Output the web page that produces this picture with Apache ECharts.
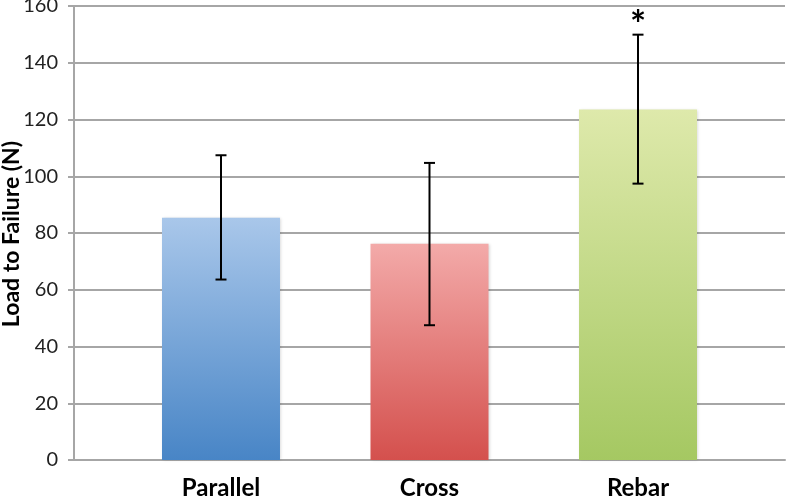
<!DOCTYPE html>
<html>
<head>
<meta charset="utf-8">
<script src="https://cdn.jsdelivr.net/npm/echarts@6/dist/echarts.min.js"></script>
<style>
html,body{margin:0;padding:0;background:#fff;}
#chart{width:787px;height:499px;}
</style>
</head>
<body>
<div id="chart"></div>
<script>
const categories = ['Parallel', 'Cross', 'Rebar'];
const means = [85.4, 76.2, 123.5];
const errLow = [63.6, 47.5, 97.4];
const errHigh = [107.4, 104.7, 149.9];
const annotations = ['', '', '*'];
const yTicks = [0, 20, 40, 60, 80, 100, 120, 140, 160];
const yTitle = 'Load to Failure (N)';
const topColors = ['#a9c7ea', '#f3aaa9', '#dee9ab'];
const bottomColors = ['#4885c6', '#d4504d', '#a5c862'];

const chart = echarts.init(document.getElementById('chart'), null, {renderer: 'canvas'});
const font = 'Lato, "Open Sans", "Liberation Sans", sans-serif';
const BAR_W = 118;

const barData = categories.map((c, i) => [i, means[i]]);
const errData = categories.map((c, i) => [i, errLow[i], errHigh[i]]);

chart.setOption({
  animation: false,
  grid: {left: 74, right: 2, top: 6, bottom: 39, containLabel: false, outerBoundsMode: 'none'},
  graphic: [{
    type: 'text',
    x: 12,
    y: 234,
    rotation: Math.PI / 2,
    style: {text: yTitle, fontFamily: font, fontWeight: 'bold', fontSize: 23, fill: '#000', align: 'center', verticalAlign: 'middle'}
  }],
  xAxis: {
    type: 'value',
    min: -0.705,
    max: 2.705,
    splitLine: {show: false},
    axisLine: {show: true, onZero: false, lineStyle: {color: '#a6a6a6', width: 2}},
    axisTick: {show: false},
    axisLabel: {
      customValues: [0, 1, 2],
      formatter: v => categories[Math.round(v)],
      fontFamily: font,
      fontWeight: 'bold',
      fontSize: 24,
      color: '#000',
      margin: 16
    }
  },
  yAxis: {
    type: 'value',
    min: yTicks[0],
    max: yTicks[yTicks.length - 1],
    interval: yTicks[1] - yTicks[0],
    axisLine: {show: true, onZero: false, lineStyle: {color: '#a6a6a6', width: 2}},
    axisTick: {show: true, length: 6, lineStyle: {color: '#a6a6a6', width: 2}},
    splitLine: {show: true, lineStyle: {color: '#a6a6a6', width: 2}},
    axisLabel: {fontFamily: font, fontSize: 20, color: '#222', margin: 16}
  },
  series: [
    {
      type: 'custom',
      data: barData,
      z: 5,
      renderItem: function (params, api) {
        const i = params.dataIndex;
        const top = api.coord([api.value(0), api.value(1)]);
        const base = api.coord([api.value(0), 0]);
        return {
          type: 'rect',
          shape: {x: top[0] - BAR_W / 2, y: top[1], width: BAR_W, height: base[1] - top[1]},
          style: {
            fill: new echarts.graphic.LinearGradient(0, 0, 0, 1, [
              {offset: 0, color: topColors[i]},
              {offset: 1, color: bottomColors[i]}
            ]),
            shadowColor: 'rgba(0,0,0,0.18)',
            shadowBlur: 3,
            shadowOffsetX: 1
          }
        };
      }
    },
    {
      type: 'custom',
      data: errData,
      z: 10,
      renderItem: function (params, api) {
        const i = api.value(0);
        const lo = api.coord([i, api.value(1)]);
        const hi = api.coord([i, api.value(2)]);
        const cap = 5.5;
        const style = {stroke: '#000', lineWidth: 2};
        const children = [
          {type: 'line', shape: {x1: hi[0], y1: hi[1], x2: lo[0], y2: lo[1]}, style: style},
          {type: 'line', shape: {x1: hi[0] - cap, y1: hi[1], x2: hi[0] + cap, y2: hi[1]}, style: style},
          {type: 'line', shape: {x1: lo[0] - cap, y1: lo[1], x2: lo[0] + cap, y2: lo[1]}, style: style}
        ];
        const ann = annotations[params.dataIndex];
        if (ann) {
          children.push({
            type: 'text',
            x: hi[0],
            y: hi[1] - 9,
            style: {text: ann, fontSize: 38, fontWeight: 'bold', fontFamily: font, fill: '#000', align: 'center', verticalAlign: 'middle'}
          });
        }
        return {type: 'group', children: children};
      }
    }
  ]
});
</script>
</body>
</html>
